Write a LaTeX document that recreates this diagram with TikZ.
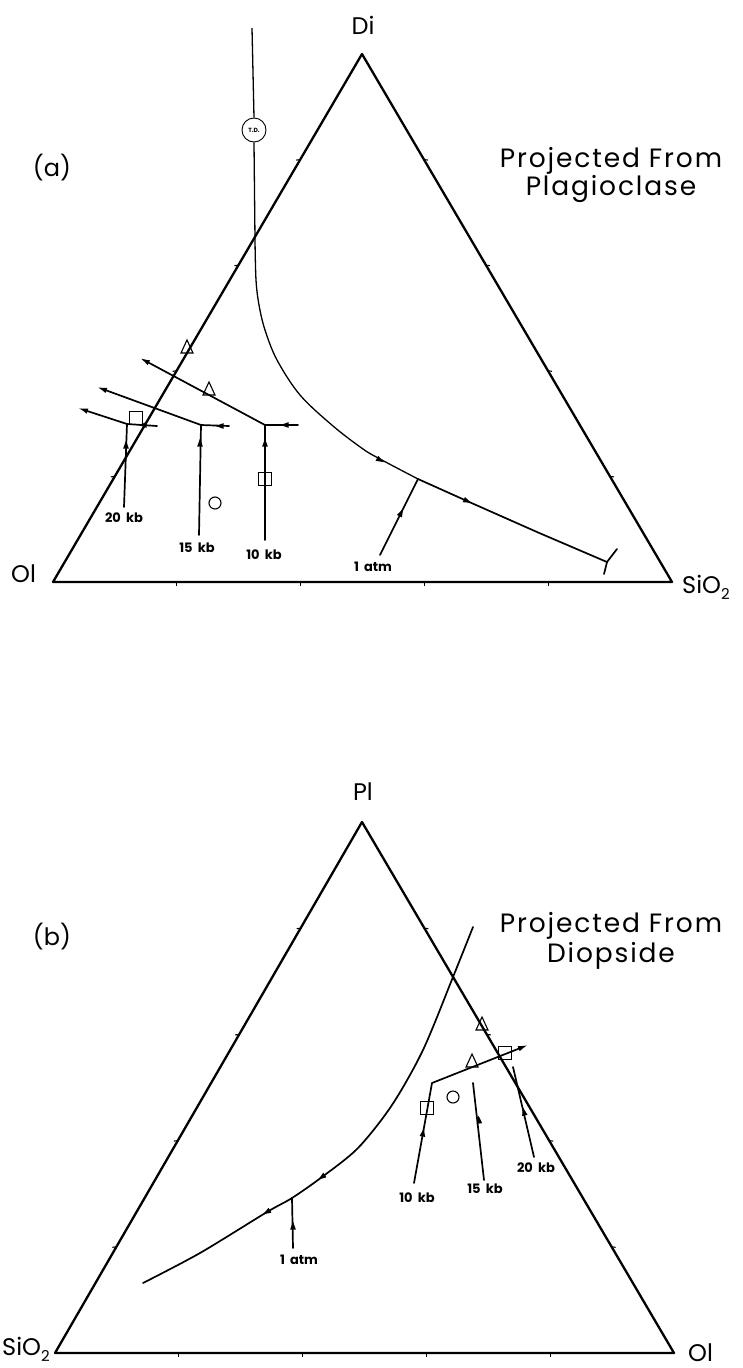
\documentclass[tikz,border=0pt]{standalone}
\usepackage{fontspec}
\setmainfont{Poppins}
\newfontfamily\headfont{Poppins}[LetterSpace=7]
\usetikzlibrary{arrows.meta,calc}
\newcommand{\subtwo}{\raisebox{-0.25em}{\fontsize{15}{15}\selectfont 2}}
\begin{document}
\begin{tikzpicture}[x=1pt,y=-1pt,
  tri/.style={line width=2.3pt, line cap=round, line join=round},
  ln/.style={line width=1.7pt, line cap=round, line join=round},
  thinln/.style={line width=1.3pt},
  tk/.style={line width=1.1pt},
  ah/.style={-{Latex[length=10pt,width=5.5pt]}},
  big/.style={font=\fontsize{24}{28}\selectfont, inner sep=0pt},
  head/.style={font=\headfont\fontsize{26.5}{30}\selectfont, inner sep=0pt},
  kb/.style={font=\bfseries\fontsize{13}{15}\selectfont, inner sep=0pt},
  amark/.pic={\fill (4.5,0) -- (-3.5,2.8) -- (-3.5,-2.8) -- cycle;},
  otri/.pic={\draw[line width=1.1pt, line join=miter] (-6,6) -- (6,6) -- (0,-7) -- cycle;},
  osq/.pic={\draw[line width=1.1pt] (-6.5,-6.5) rectangle (6.5,6.5);},
  ocirc/.pic={\draw[line width=1.1pt] (0,0) circle[radius=6pt];}
]
\useasboundingbox (0,0) rectangle (742,1368);

%% ================= (a) =================
\coordinate (aO) at (53,582);
\coordinate (aS) at (672,582);
\coordinate (aD) at (362,54);
\draw[tri] (aO) -- (aS) -- (aD) -- cycle;
\foreach \t in {0.2,0.4,0.6,0.8} {
  \draw[tk] ($(aO)!\t!(aS)$) -- ++(0,4);
  \draw[tk] ($(aO)!\t!(aD)$) -- ++(-4,0.5);
  \draw[tk] ($(aS)!\t!(aD)$) -- ++(4,0.5);
}
\node[big, anchor=base] (lDi) at (363,34) {Di};
\node[big, anchor=base west] (lOla) at (11,582) {Ol};
\node[big, anchor=base west] (lSa) at (682,593) {SiO\subtwo};
\node[big] (la) at (52,168) {(a)};
\node[head, anchor=base] (pa1) at (611,167) {Projected From};
\node[head, anchor=base] (pa2) at (611,195) {Plagioclase};

% thermal divide curve
\coordinate (tdtop) at (252,28);
\node[draw, circle, line width=0.9pt, minimum size=24pt, inner sep=0pt,
      font=\bfseries\fontsize{6}{6}\selectfont] (td) at (254,130) {T.D.};
\draw[thinln] (tdtop) -- (td.north);
\coordinate (aj1) at (418,479);
\coordinate (aend) at (607,562);
\draw[thinln] (td.south) -- (255,240)
  -- plot[smooth, tension=0.55] coordinates {(255,240) (256,280) (259,305) (265,330) (277,360) (300,395) (333,426) (363,449) (380,459) (aj1)};
\draw[ln] (aj1) -- (467,501) -- (537,532) -- (aend);
\draw[ln] (aend) -- (617,549);
\draw[ln] (aend) -- (604,574);
\pic[rotate=-28] at (380,460) {amark};
\pic[rotate=-24] at (467,501) {amark};

% 1 atm
\coordinate (a1b) at (380,555);
\draw[ln] (a1b) -- (aj1);
\pic[rotate=63.4] at (401,513) {amark};
\node[kb] (l1a) at (373,567) {1\hspace{0.4em}atm};

% 10 kb
\coordinate (a10b) at (265,540);
\coordinate (a10j) at (265,425);
\coordinate (a10r) at (298,425);
\coordinate (a10e) at (140,358);
\draw[ln] (a10b) -- (a10j);
\draw[ln] (a10r) -- (a10j);
\draw[ln, ah] (a10j) -- (a10e);
\pic[rotate=90] at (265,443) {amark};
\pic[rotate=180] at (285,425) {amark};
\node[kb] (l10a) at (264,555) {10\hspace{0.4em}kb};

% 15 kb
\coordinate (a15b) at (199,535);
\coordinate (a15j) at (201,425);
\coordinate (a15r) at (229,426);
\coordinate (a15e) at (97,387);
\draw[ln] (a15b) -- (a15j);
\draw[ln] (a15r) -- (a15j);
\draw[ln, ah] (a15j) -- (a15e);
\pic[rotate=90] at (200,443) {amark};
\pic[rotate=180] at (220,426) {amark};
\node[kb] (l15a) at (197,548) {15\hspace{0.4em}kb};

% 20 kb
\coordinate (a20b) at (124,507);
\coordinate (a20j) at (127,424);
\coordinate (a20r) at (157,426);
\coordinate (a20e) at (78,408);
\draw[ln] (a20b) -- (a20j);
\draw[ln] (a20r) -- (a20j);
\draw[ln, ah] (a20j) -- (a20e);
\pic[rotate=90] at (126,445) {amark};
\pic[rotate=180] at (143,425) {amark};
\node[kb] (l20a) at (124,518) {20\hspace{0.4em}kb};

% symbols (a)
\pic at (187,347) {otri};
\pic at (209,389) {otri};
\pic at (265,479) {osq};
\pic at (136,418) {osq};
\pic at (215,503) {ocirc};

%% ================= (b) =================
\coordinate (bS) at (55,1353);
\coordinate (bO) at (674,1353);
\coordinate (bP) at (362,822);
\draw[tri] (bS) -- (bO) -- (bP) -- cycle;
\foreach \t in {0.2,0.4,0.6,0.8} {
  \draw[tk] ($(bS)!\t!(bO)$) -- ++(0,4);
  \draw[tk] ($(bS)!\t!(bP)$) -- ++(-4,0.5);
  \draw[tk] ($(bO)!\t!(bP)$) -- ++(4,0.5);
}
\node[big, anchor=base] (lPl) at (363,800) {Pl};
\node[big, anchor=base west] (lSb) at (2,1355) {SiO\subtwo};
\node[big, anchor=base west] (lOlb) at (688,1361) {Ol};
\node[big] (lb) at (52,937) {(b)};
\node[head, anchor=base] (pb1) at (611,932) {Projected From};
\node[head, anchor=base] (pb2) at (611,962) {Diopside};

% cotectic curve
\coordinate (bj1) at (292,1198);
\draw[ln] plot[smooth, tension=0.5] coordinates {(143,1283) (200,1253) (267,1212) (bj1) (322,1177) (358,1148) (392,1105) (423,1050) (453,977) (473,927)};
\pic[rotate=211] at (267,1212) {amark};
\pic[rotate=215] at (322,1177) {amark};

% 1 atm
\coordinate (b1b) at (293,1248);
\draw[ln] (b1b) -- (bj1);
\pic[rotate=90] at (293,1226) {amark};
\node[kb] (l1b) at (299,1260) {1\hspace{0.4em}atm};

% 10 kb
\coordinate (b10b) at (414,1183);
\coordinate (b10k) at (432,1083);
\coordinate (b10e) at (528,1045);
\draw[ln, ah] (b10b) -- (b10k) -- (b10e);
\pic[rotate=79.8] at (423,1133) {amark};
\node[kb] (l10b) at (417,1198) {10\hspace{0.4em}kb};

% 15 kb
\coordinate (b15b) at (484,1180);
\coordinate (b15t) at (473,1083);
\draw[ln] (b15b) -- (b15t);
\pic[rotate=96.5] at (479,1120) {amark};
\node[kb] (l15b) at (485,1189) {15\hspace{0.4em}kb};

% 20 kb
\coordinate (b20b) at (534,1157);
\coordinate (b20t) at (513,1067);
\draw[ln] (b20b) -- (b20t);
\pic[rotate=103] at (524,1112) {amark};
\node[kb] (l20b) at (536,1168) {20\hspace{0.4em}kb};

% symbols (b)
\pic at (482,1024) {otri};
\pic at (472,1061) {otri};
\pic at (427,1108) {osq};
\pic at (505,1053) {osq};
\pic at (453,1097) {ocirc};
\end{tikzpicture}
\end{document}
